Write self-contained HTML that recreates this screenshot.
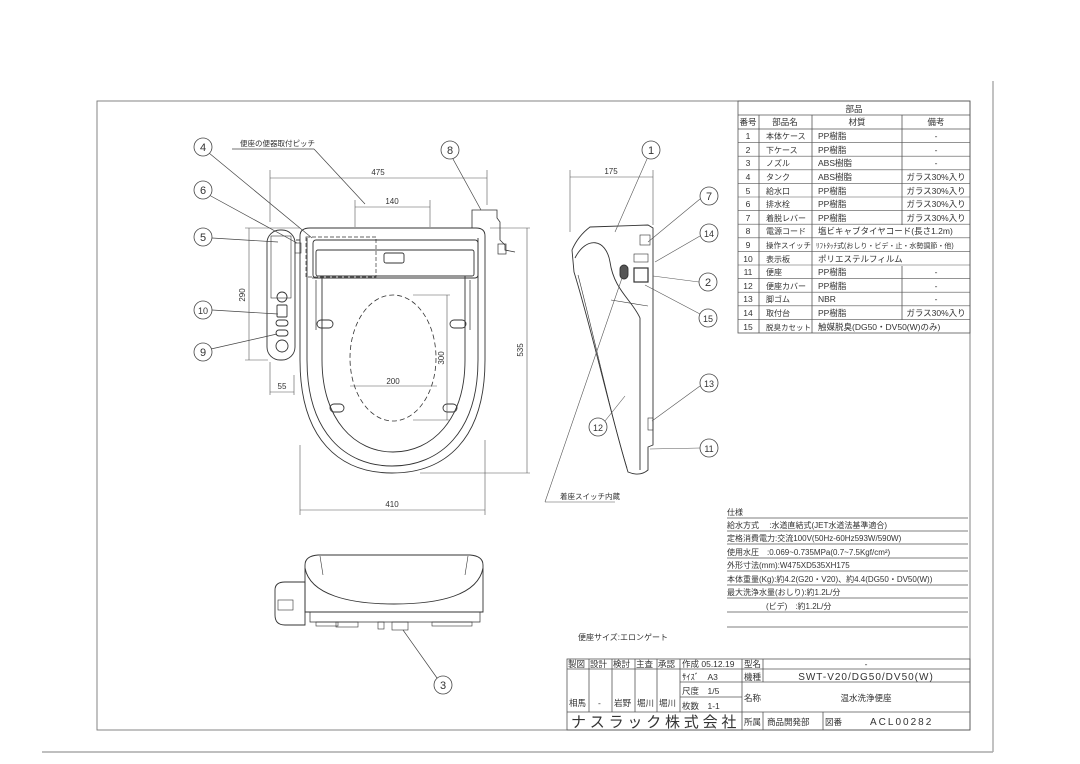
<!DOCTYPE html>
<html><head><meta charset="utf-8"><style>
html,body{margin:0;padding:0;background:#fff;width:1080px;height:764px;overflow:hidden}
svg{display:block}
text{font-family:"Liberation Sans","Noto Sans CJK JP",sans-serif;fill:#333}
.t{font-size:8.5px}
.s{font-size:8px}
</style></head><body>
<svg width="1080" height="764" viewBox="0 0 1080 764" xmlns="http://www.w3.org/2000/svg" fill="none" stroke="#444" stroke-width="0.9">
<!-- frame -->
<rect x="97" y="101" width="873" height="629" stroke="#777"/>
<line x1="993" y1="81" x2="993" y2="752" stroke="#777"/>
<line x1="42" y1="752" x2="993" y2="752" stroke="#aaa" stroke-width="1.5"/>

<!-- parts table -->
<g stroke="#555" stroke-width="0.8">
<rect x="738" y="101" width="232" height="232"/>
<line x1="738" y1="115" x2="970" y2="115"/>
<line x1="738" y1="129" x2="970" y2="129"/>
<line x1="759" y1="115" x2="759" y2="333"/>
<line x1="812" y1="115" x2="812" y2="333"/>
<line x1="902" y1="115" x2="902" y2="225"/>
<line x1="902" y1="266" x2="902" y2="320"/>
</g>
<g stroke="#555" stroke-width="0.6">
<line x1="738" y1="142.6" x2="970" y2="142.6"/><line x1="738" y1="156.2" x2="970" y2="156.2"/>
<line x1="738" y1="169.8" x2="970" y2="169.8"/><line x1="738" y1="183.4" x2="970" y2="183.4"/>
<line x1="738" y1="197" x2="970" y2="197"/><line x1="738" y1="210.6" x2="970" y2="210.6"/>
<line x1="738" y1="224.2" x2="970" y2="224.2"/><line x1="738" y1="237.8" x2="970" y2="237.8"/>
<line x1="738" y1="251.4" x2="970" y2="251.4"/><line x1="738" y1="265" x2="970" y2="265"/>
<line x1="738" y1="278.6" x2="970" y2="278.6"/><line x1="738" y1="292.2" x2="970" y2="292.2"/>
<line x1="738" y1="305.8" x2="970" y2="305.8"/><line x1="738" y1="319.4" x2="970" y2="319.4"/>
</g>
<g class="t" stroke="none">
<text x="854" y="112" text-anchor="middle">部品</text>
<text x="748" y="125" text-anchor="middle">番号</text><text x="785" y="125" text-anchor="middle">部品名</text><text x="857" y="125" text-anchor="middle">材質</text><text x="936" y="125" text-anchor="middle">備考</text>
<g text-anchor="middle">
<text x="748" y="139">1</text><text x="748" y="153">2</text><text x="748" y="166">3</text><text x="748" y="180">4</text><text x="748" y="194">5</text><text x="748" y="207">6</text><text x="748" y="221">7</text><text x="748" y="234">8</text><text x="748" y="248">9</text><text x="748" y="262">10</text><text x="748" y="275">11</text><text x="748" y="289">12</text><text x="748" y="302">13</text><text x="748" y="316">14</text><text x="748" y="330">15</text>
<text x="936" y="139">-</text><text x="936" y="153">-</text><text x="936" y="166">-</text><text x="936" y="180">ガラス30%入り</text><text x="936" y="194">ガラス30%入り</text><text x="936" y="207">ガラス30%入り</text><text x="936" y="221">ガラス30%入り</text>
<text x="936" y="275">-</text><text x="936" y="289">-</text><text x="936" y="302">-</text><text x="936" y="316">ガラス30%入り</text>
</g>
<g style="font-size:8px">
<text x="766" y="139">本体ケース</text><text x="766" y="153">下ケース</text><text x="766" y="166">ノズル</text><text x="766" y="180">タンク</text><text x="766" y="194">給水口</text><text x="766" y="207">排水栓</text><text x="766" y="221">着脱レバー</text><text x="766" y="234">電源コード</text><text x="766" y="248" style="font-size:7.5px">操作スイッチ</text><text x="766" y="262">表示板</text><text x="766" y="275">便座</text><text x="766" y="289">便座カバー</text><text x="766" y="302">脚ゴム</text><text x="766" y="316">取付台</text><text x="766" y="330" style="font-size:7.5px">脱臭カセット</text>
</g>
<text x="818" y="139">PP樹脂</text><text x="818" y="153">PP樹脂</text><text x="818" y="166">ABS樹脂</text><text x="818" y="180">ABS樹脂</text><text x="818" y="194">PP樹脂</text><text x="818" y="207">PP樹脂</text><text x="818" y="221">PP樹脂</text><text x="818" y="234">塩ビキャブタイヤコード(長さ1.2m)</text><text x="816" y="248" style="font-size:7px">ﾘﾌﾄﾀｯﾁ式(おしり・ビデ・止・水勢調節・他)</text><text x="818" y="262">ポリエステルフィルム</text><text x="818" y="275">PP樹脂</text><text x="818" y="289">PP樹脂</text><text x="818" y="302">NBR</text><text x="818" y="316">PP樹脂</text><text x="818" y="330">触媒脱臭(DG50・DV50(W)のみ)</text>
</g>

<!-- spec -->
<g stroke="#555" stroke-width="0.7">
<line x1="727" y1="518" x2="968" y2="518"/><line x1="727" y1="531" x2="968" y2="531"/><line x1="727" y1="544" x2="968" y2="544"/><line x1="727" y1="558" x2="968" y2="558"/><line x1="727" y1="571" x2="968" y2="571"/><line x1="727" y1="585" x2="968" y2="585"/><line x1="727" y1="598" x2="968" y2="598"/><line x1="727" y1="612" x2="968" y2="612"/><line x1="727" y1="627" x2="968" y2="627"/>
</g>
<g class="s" stroke="none">
<text x="727" y="515">仕様</text>
<text x="727" y="528">給水方式　 :水道直結式(JET水道法基準適合)</text>
<text x="727" y="541">定格消費電力:交流100V(50Hz-60Hz593W/590W)</text>
<text x="727" y="555">使用水圧　:0.069~0.735MPa(0.7~7.5Kgf/cm²)</text>
<text x="727" y="568">外形寸法(mm):W475XD535XH175</text>
<text x="727" y="582">本体重量(Kg):約4.2(G20・V20)、約4.4(DG50・DV50(W))</text>
<text x="727" y="595">最大洗浄水量(おしり):約1.2L/分</text>
<text x="766" y="609">(ビデ)　:約1.2L/分</text>
</g>

<text x="578" y="640" class="s" stroke="none">便座サイズ:エロンゲート</text>

<!-- title block -->
<g stroke="#555" stroke-width="0.8">
<rect x="567" y="659" width="403" height="71"/>
<line x1="567" y1="712" x2="970" y2="712"/>
<line x1="589" y1="659" x2="589" y2="712"/><line x1="612" y1="659" x2="612" y2="712"/><line x1="635" y1="659" x2="635" y2="712"/><line x1="657" y1="659" x2="657" y2="712"/><line x1="680" y1="659" x2="680" y2="712"/>
<line x1="742" y1="659" x2="742" y2="730"/><line x1="763" y1="659" x2="763" y2="682"/><line x1="763" y1="712" x2="763" y2="730"/>
<line x1="823" y1="712" x2="823" y2="730"/>
<line x1="567" y1="669" x2="970" y2="669"/>
<line x1="680" y1="682" x2="970" y2="682"/>
<line x1="680" y1="697" x2="742" y2="697"/>
</g>
<g class="t" stroke="none">
<text x="568" y="667">製図</text><text x="590" y="667">設計</text><text x="613" y="667">検討</text><text x="636" y="667">主査</text><text x="658" y="667">承認</text>
<text x="682" y="667">作成 05.12.19</text><text x="744" y="667">型名</text><text x="866" y="667" text-anchor="middle">-</text>
<text x="682" y="680">ｻｲｽﾞ　A3</text><text x="744" y="680">機種</text><text x="866" y="680" text-anchor="middle" style="font-size:10px;letter-spacing:1px">SWT-V20/DG50/DV50(W)</text>
<text x="682" y="694">尺度　1/5</text><text x="682" y="709">枚数　1-1</text><text x="744" y="701">名称</text><text x="866" y="701" text-anchor="middle">温水洗浄便座</text>
<text x="569" y="706">相馬</text><text x="598" y="706">-</text><text x="614" y="706">岩野</text><text x="637" y="706">堀川</text><text x="659" y="706">堀川</text>
<text x="744" y="725">所属</text><text x="767" y="725">商品開発部</text><text x="825" y="725">図番</text><text x="870" y="725" style="font-size:10px;letter-spacing:2px">ACL00282</text>
</g>
<text x="571" y="727" stroke="none" style="font-size:15px;letter-spacing:3.8px">ナスラック株式会社</text>

<!-- FRONT VIEW -->
<g stroke="#333">
<path d="M300,236 Q300,228 310,228 L476,228 Q485,228 485,236 L485,360 C485,440 445,473 392,473 C340,473 300,440 300,360 Z"/>
<path d="M307,238 L307,360 C307,432 345,466 392,466 C440,466 478,432 478,360 L478,238"/>
<path d="M322,276 L322,360 C322,420 355,452 393,452 C432,452 465,420 465,360 L465,276"/>
<rect x="313" y="240" width="165" height="38" rx="3"/>
<rect x="316" y="250" width="158" height="26" rx="2"/>
<rect x="384" y="253" width="20" height="10" rx="2"/>
<path d="M312,278 L470,278 M316,280 L316,330 M470,280 L470,330" stroke-width="0.7"/>
<rect x="306" y="237" width="70" height="40" stroke-dasharray="4,2" stroke-width="0.7"/>
<ellipse cx="393" cy="358" rx="43" ry="63" stroke-dasharray="5,3" stroke-width="0.8"/>
<rect x="317" y="320" width="16" height="8" rx="4"/><rect x="450" y="320" width="16" height="8" rx="4"/>
<rect x="330" y="404" width="14" height="8" rx="4"/><rect x="443" y="404" width="14" height="8" rx="4"/>
<!-- panel -->
<rect x="267" y="230" width="28" height="130" rx="13"/>
<rect x="271" y="236" width="20" height="62" stroke-width="0.6"/>
<circle cx="282" cy="297" r="5"/><rect x="277" y="305" width="10" height="12" rx="1"/>
<rect x="276" y="320" width="12" height="6" rx="3"/><rect x="276" y="330" width="12" height="6" rx="3"/>
<circle cx="282" cy="346" r="6"/>
<line x1="296" y1="240" x2="300" y2="240"/><rect x="295" y="243" width="6" height="10" stroke-width="0.6"/>
<!-- cord -->
<path d="M472,228 L472,210 L497,210 L497,218 L500,222 L500,240 L505,245 L505,250 L515,252" stroke-width="0.8"/>
<rect x="498" y="244" width="8" height="10" stroke-width="0.7"/>
</g>
<!-- dims front -->
<g stroke="#555" stroke-width="0.6">
<line x1="270" y1="170" x2="270" y2="222"/><line x1="487" y1="170" x2="487" y2="205"/>
<line x1="270" y1="178" x2="487" y2="178"/>
<line x1="355" y1="200" x2="355" y2="227"/><line x1="430" y1="200" x2="430" y2="227"/>
<line x1="355" y1="207" x2="430" y2="207"/>
<line x1="245" y1="228" x2="300" y2="228"/><line x1="245" y1="360" x2="268" y2="360"/>
<line x1="249" y1="228" x2="249" y2="360"/>
<line x1="270" y1="362" x2="270" y2="395"/><line x1="294" y1="375" x2="294" y2="395"/>
<line x1="270" y1="392" x2="294" y2="392"/>
<line x1="350" y1="386" x2="437" y2="386"/>
<line x1="413" y1="295" x2="450" y2="295"/><line x1="413" y1="420" x2="450" y2="420"/>
<line x1="447" y1="295" x2="447" y2="420"/>
<line x1="490" y1="228" x2="530" y2="228"/><line x1="420" y1="473" x2="530" y2="473"/>
<line x1="527" y1="228" x2="527" y2="473"/>
<line x1="300" y1="445" x2="300" y2="515"/><line x1="485" y1="440" x2="485" y2="515"/>
<line x1="300" y1="510" x2="485" y2="510"/>
</g>
<g class="s" stroke="none" text-anchor="middle">
<text x="378" y="175">475</text><text x="392" y="204">140</text><text x="282" y="389">55</text>
<text x="393" y="384">200</text><text x="392" y="507">410</text>
<text x="0" y="0" transform="translate(245,295) rotate(-90)">290</text>
<text x="0" y="0" transform="translate(444,358) rotate(-90)">300</text>
<text x="0" y="0" transform="translate(523,350) rotate(-90)">535</text>
</g>
<text x="240" y="146" style="font-size:7.5px" stroke="none">便座の便器取付ピッチ</text>
<g stroke="#444" stroke-width="0.7">
<line x1="232" y1="149" x2="314" y2="149"/><line x1="314" y1="149" x2="365" y2="204"/>
<line x1="209" y1="153" x2="312" y2="238"/>
<line x1="209" y1="195" x2="297" y2="243"/>
<line x1="212" y1="238" x2="278" y2="242"/>
<line x1="212" y1="310" x2="278" y2="314"/>
<line x1="211" y1="349" x2="277" y2="334"/>
<line x1="453" y1="159" x2="481" y2="210"/>
</g>
<g stroke="#444" stroke-width="0.8" fill="#fff">
<circle cx="203" cy="147" r="9"/><circle cx="203" cy="190" r="9"/><circle cx="203" cy="237" r="9"/>
<circle cx="203" cy="310" r="9"/><circle cx="203" cy="352" r="9"/><circle cx="450" cy="150" r="9"/>
</g>
<g stroke="none" text-anchor="middle" style="font-size:11px">
<text x="203" y="151">4</text><text x="203" y="194">6</text><text x="203" y="241">5</text>
<text x="203" y="314" style="font-size:9px">10</text><text x="203" y="356">9</text><text x="450" y="154">8</text>
</g>

<!-- SIDE VIEW -->
<g stroke="#333">
<path d="M590,227 L648,225 L653,228 L653,445 L648,447 L648,470 Q640,477 628,472 C612,420 592,330 574,272 L572,250 Q578,236 590,227 Z"/>
<path d="M575,258 C586,236 606,238 610,262 C614,290 632,300 640,318 L640,470"/>
<path d="M578,275 C595,340 612,420 627,468" stroke-width="0.6"/>
<path d="M611,300 L648,306" stroke-width="0.6"/>
<rect x="634" y="268" width="14" height="14" stroke-width="1.2"/>
<rect x="620" y="265" width="8" height="14" rx="4" fill="#555"/>
<rect x="634" y="254" width="14" height="8" stroke-width="0.6"/>
<rect x="640" y="235" width="10" height="10" stroke-width="0.6"/>
<rect x="648" y="418" width="5" height="12" stroke-width="0.6"/>
</g>
<g stroke="#555" stroke-width="0.6">
<line x1="570" y1="170" x2="570" y2="232"/><line x1="653" y1="170" x2="653" y2="225"/>
<line x1="570" y1="177" x2="653" y2="177"/>
<line x1="545" y1="502" x2="615" y2="502"/><line x1="545" y1="502" x2="622" y2="278"/>
<line x1="647" y1="159" x2="615" y2="232"/>
<line x1="700" y1="199" x2="648" y2="242"/>
<line x1="700" y1="236" x2="655" y2="262"/>
<line x1="699" y1="282" x2="653" y2="276"/>
<line x1="700" y1="314" x2="645" y2="285"/>
<line x1="700" y1="386" x2="652" y2="421"/>
<line x1="700" y1="448" x2="650" y2="449"/>
<line x1="605" y1="421" x2="625" y2="396"/>
</g>
<g stroke="#444" stroke-width="0.8" fill="#fff">
<circle cx="651" cy="150" r="9"/><circle cx="709" cy="196" r="9"/><circle cx="709" cy="233" r="9"/>
<circle cx="708" cy="282" r="9"/><circle cx="708" cy="318" r="9"/><circle cx="709" cy="383" r="9"/>
<circle cx="709" cy="448" r="9"/><circle cx="598" cy="427" r="9"/>
<circle cx="443" cy="685" r="9"/>
</g>
<g stroke="none" text-anchor="middle" style="font-size:11px">
<text x="651" y="154">1</text><text x="709" y="200">7</text><text x="709" y="237" style="font-size:9px">14</text>
<text x="708" y="286">2</text><text x="708" y="322" style="font-size:9px">15</text><text x="709" y="387" style="font-size:9px">13</text>
<text x="709" y="452" style="font-size:9px">11</text><text x="598" y="431" style="font-size:9px">12</text>
<text x="443" y="689">3</text>
</g>
<text x="611" y="174" class="s" stroke="none" text-anchor="middle">175</text>
<text x="560" y="499" style="font-size:7.5px" stroke="none">着座スイッチ内蔵</text>

<!-- BOTTOM VIEW -->
<g stroke="#333">
<path d="M305,565 Q305,556 318,555 L470,555 Q483,556 483,565 L483,612 L305,612 Z"/>
<path d="M305,568 C310,595 350,604 394,604 C440,604 478,595 483,568"/>
<path d="M320,556 L323,575 M468,556 L465,575" stroke-width="0.6"/>
<path d="M310,612 L310,622 L480,622 L480,612" stroke-width="0.7"/>
<path d="M275,590 Q275,582 285,582 L305,582 L305,625 L285,625 Q275,625 275,615 Z"/>
<rect x="278" y="600" width="15" height="10" stroke-width="0.6"/>
<rect x="316" y="622" width="22" height="4" stroke-width="0.6"/><rect x="336" y="622" width="22" height="5" stroke-width="0.6"/>
<rect x="432" y="622" width="40" height="4" stroke-width="0.6"/>
<rect x="378" y="622" width="6" height="7" stroke-width="0.6"/><rect x="392" y="622" width="16" height="8" stroke-width="0.6"/>
</g>
<line x1="403" y1="630" x2="437" y2="678" stroke="#444" stroke-width="0.7"/>
</svg>
</body></html>
